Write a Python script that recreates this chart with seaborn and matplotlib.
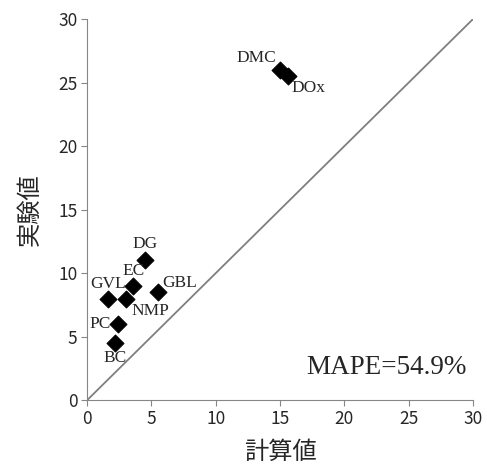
import numpy as np
import pandas as pd
import matplotlib
matplotlib.use("Agg")
import matplotlib.pyplot as plt
import seaborn as sns

# 溶媒ごとの計算値・実験値
solvents = ["DMC", "DOx", "DG", "EC", "GBL", "GVL", "NMP", "PC", "BC"]
calc_vals = [15.0, 15.6, 4.5, 3.6, 5.5, 1.6, 3.0, 2.4, 2.2]
exp_vals = [26.0, 25.5, 11.0, 9.0, 8.5, 8.0, 8.0, 6.0, 4.5]
axis_ticks = [0, 5, 10, 15, 20, 25, 30]
mape_text = "MAPE=54.9%"

# ラベルの位置 (オフセット, 揃え)
label_pos = {
    "DMC": ((-3, 3), "right", "bottom"),
    "DOx": ((3, -3), "left", "top"),
    "DG": ((0, 6), "center", "bottom"),
    "EC": ((0, 5), "center", "bottom"),
    "GBL": ((3, 1), "left", "bottom"),
    "GVL": ((0, 5), "center", "bottom"),
    "NMP": ((4, -3), "left", "top"),
    "PC": ((-5, 0), "right", "center"),
    "BC": ((0, -5), "center", "top"),
}

df = pd.DataFrame({"solvent": solvents, "calc": calc_vals, "exp": exp_vals})

sns.set_style("white")
plt.rcParams["font.family"] = ["Noto Sans CJK JP", "DejaVu Sans"]

fig = plt.figure(figsize=(4.87, 4.68), dpi=100)
ax = fig.add_axes([0.179, 0.145, 0.792, 0.814])

ax.plot([0, 30], [0, 30], color="#7f7f7f", lw=1.3, zorder=1)
sns.scatterplot(data=df, x="calc", y="exp", marker="D", s=75, color="black",
                edgecolor="black", ax=ax, zorder=3)

for _, row in df.iterrows():
    off, ha, va = label_pos[row["solvent"]]
    ax.annotate(row["solvent"], (row["calc"], row["exp"]), xytext=off,
                textcoords="offset points", ha=ha, va=va,
                fontsize=12.5, family="Liberation Serif")

ax.text(29.5, 2.6, mape_text, ha="right", va="center", fontsize=19.5,
        family="Liberation Serif")

ax.set_xlim(0, 30)
ax.set_ylim(0, 30)
ax.set_xticks(axis_ticks)
ax.set_yticks(axis_ticks)
ax.tick_params(labelsize=12.5, length=4, color="#868686", direction="out",
               bottom=True, left=True, pad=3)
for s in ["top", "right"]:
    ax.spines[s].set_visible(False)
for s in ["left", "bottom"]:
    ax.spines[s].set_color("#868686")
ax.set_xlabel("計算値", fontsize=17.5, labelpad=8)
ax.set_ylabel("実験値", fontsize=17.5, labelpad=11)

fig.savefig("out.png", dpi=100)
